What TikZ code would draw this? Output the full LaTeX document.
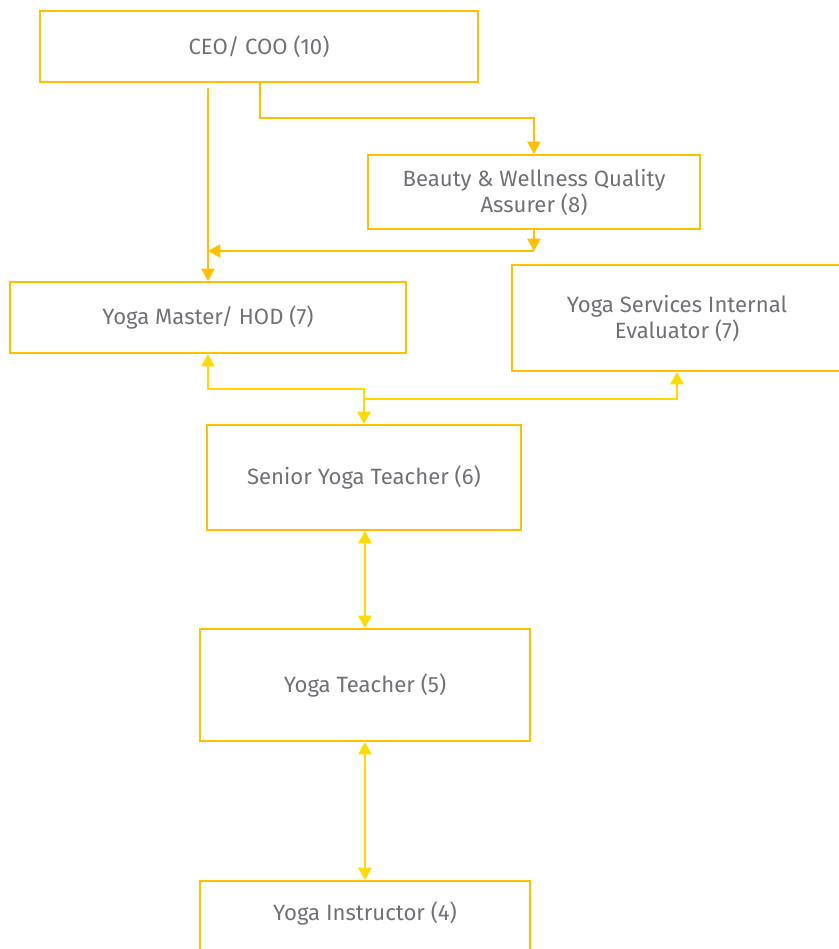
\documentclass[tikz,border=0pt]{standalone}
\usepackage{fontspec}
\setmainfont{Fira Sans}
\usetikzlibrary{arrows.meta, positioning, calc}
\definecolor{boxorange}{RGB}{255,192,0}
\definecolor{linkyellow}{RGB}{255,218,0}
\definecolor{textgray}{RGB}{112,112,120}

\begin{document}
\begin{tikzpicture}[x=0.02cm, y=-0.02cm,
  >={Triangle[width=7.5pt,length=7pt]},
  box/.style={draw=boxorange, line width=1.15pt, inner sep=0pt, align=center,
    text=textgray, font=\fontsize{12.6}{14.8}\selectfont},
  toplink/.style={draw=boxorange, line width=1.1pt, ->},
  lowlink/.style={draw=linkyellow, line width=1.1pt}]
  \useasboundingbox (0,0) rectangle (838,949);
  % boxes
  \node[box, minimum width=8.76cm, minimum height=1.42cm] (ceo) at (259,46.5) {CEO/ COO (10)};
  \node[box, minimum width=6.66cm, minimum height=1.48cm] (bwqa) at (534,192) {Beauty \& Wellness Quality\\Assurer (8)};
  \node[box, minimum width=7.92cm, minimum height=1.42cm] (master) at (208,317.5) {Yoga Master/ HOD (7)};
  \node[box, minimum width=6.6cm, minimum height=2.12cm] (eval) at (677,318) {Yoga Services Internal\\Evaluator (7)};
  \node[box, minimum width=6.3cm, minimum height=2.1cm] (senior) at (364,477.5) {Senior Yoga Teacher (6)};
  \node[box, minimum width=6.6cm, minimum height=2.24cm] (teacher) at (365,685) {Yoga Teacher (5)};
  \node[box, minimum width=6.6cm, minimum height=2.24cm, anchor=north] (instr) at (365,880) {};
  \node[text=textgray, font=\fontsize{12.6}{14.8}\selectfont] (instrtext) at (365,913) {Yoga Instructor (4)};
  % upper links
  \coordinate (split) at (260,118);
  \coordinate (qajoin) at (534,251);
  \draw[toplink] (ceo.south -| master.north) ++(0,5) -- (master.north);
  \draw[toplink] (split |- ceo.south) -- (split) -| (bwqa.north);
  \draw[toplink] (bwqa.south) -- (qajoin);
  \draw[toplink] (qajoin) -- (qajoin -| master.north);
  % lower links
  \coordinate (sjoin) at ($(senior.north)+(0,-35)$);
  \draw[lowlink, <->] (master.south) |- (sjoin) -- (senior.north);
  \draw[lowlink, ->] (sjoin) ++(0,10) -| (eval.south);
  \draw[lowlink, <->] (teacher.north |- senior.south) -- (teacher.north);
  \draw[lowlink, <->] (teacher.south) -- (instr.north);
\end{tikzpicture}
\end{document}
